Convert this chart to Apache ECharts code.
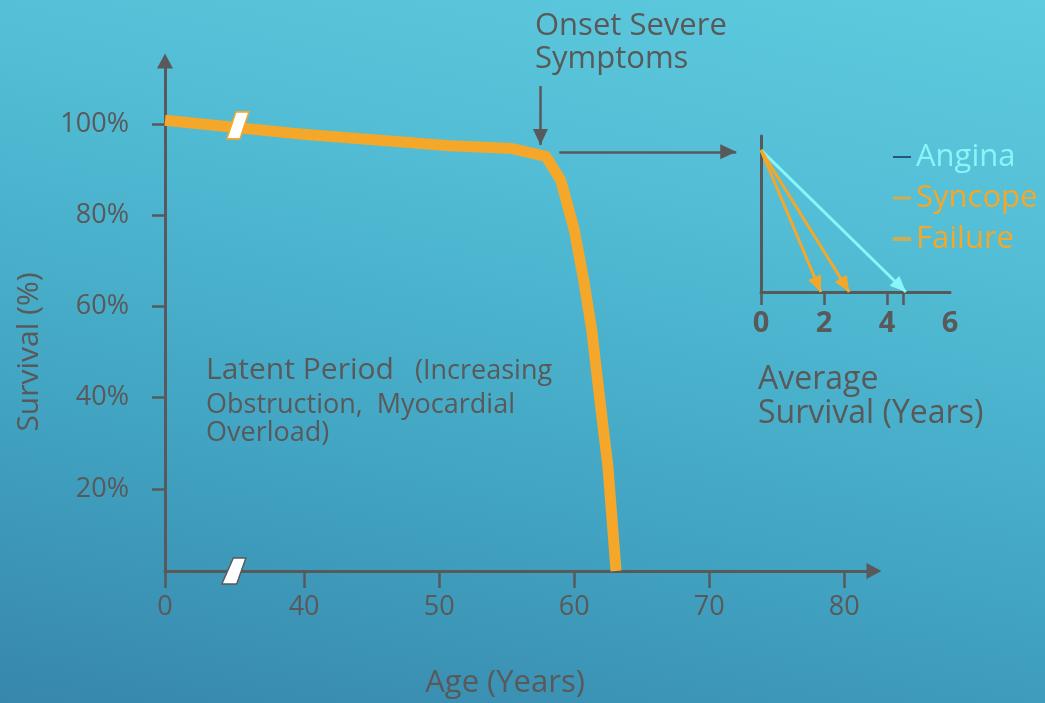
<!DOCTYPE html>
<html>
<head>
<meta charset="utf-8">
<script src="https://cdn.jsdelivr.net/npm/echarts@6/dist/echarts.min.js"></script>
<style>
  html, body { margin: 0; padding: 0; width: 1045px; height: 703px; overflow: hidden;
    background: linear-gradient(12deg, #3787ab 0%, #42a5c3 35%, #52bdd5 70%, #5fcbde 100%); }
  #chart { width: 1045px; height: 703px; }
</style>
</head>
<body>
<div id="chart"></div>
<script>
// Survival curve (age axis origin is a broken axis labelled "0")
const ageValues = [29.7, 39.7, 50.8, 55.4, 57.9, 59.0, 60.0, 60.7, 61.3, 61.9, 62.5, 63.1];
const survivalValues = [100.8, 97.8, 95.2, 94.6, 92.9, 87.7, 76.8, 65.8, 54.8, 39.5, 24.8, 2.0];
const ageTicks = [29.7, 40, 50, 60, 70, 80];
const ageTickLabels = ['0', '40', '50', '60', '70', '80'];
const survivalTicks = [20, 40, 60, 80, 100];

// Axis-break marks: [age, survival]
const breakPoints = [[35.1, 99.7], [34.8, 2.0]];

// Annotation arrows on the main plot: [[fromAge, fromSurv], [toAge, toSurv]]
const onsetArrow = [[57.5, 108.3], [57.5, 95.4]];
const insetArrow = [[58.9, 93.9], [72.0, 93.9]];

// Inset: average survival after onset of each symptom
const symptomNames = ['Angina', 'Syncope', 'Failure'];
const averageSurvivalYears = [4.6, 2.8, 1.9];
const insetStartLevel = 100;
const insetLabelValues = [0, 2, 4, 6];
const insetTickValues = [0, 2, 4, 4.5];

const ORANGE = '#F5A729';
const CYAN = '#86F6F9';
const AXIS = '#58595B';
const TEXT = '#595959';
const FONT = '"Open Sans", sans-serif';
const symptomColors = [CYAN, ORANGE, ORANGE];
const legendMarkColors = ['#1c3a6b', ORANGE, ORANGE];
const legendMarkPaths = [
  'path://M0,0M18,14M0,6H18V8H0Z',
  'path://M0,0M18,14M0,5.5H18V8.5H0Z',
  'path://M0,0M18,14M0,5H18V9H0Z'
];

const chart = echarts.init(document.getElementById('chart'), null, { renderer: 'canvas' });

// one arrow: plain start, triangle head whose tip sits on the end coordinate
const arrowLine = (from, to) => [
  { coord: from },
  { coord: to, symbolOffset: [0, '50%'] }
];

const insetSeries = symptomNames.map((name, i) => ({
  name: name,
  type: 'scatter',
  xAxisIndex: 1,
  yAxisIndex: 1,
  data: [],
  itemStyle: { color: symptomColors[i] },
  markLine: {
    silent: true,
    animation: false,
    symbol: ['none', 'triangle'],
    symbolSize: [14, 16],
    label: { show: false },
    emphasis: { disabled: true },
    lineStyle: { color: symptomColors[i], width: 3, type: 'solid' },
    data: [arrowLine([0, insetStartLevel], [averageSurvivalYears[i], 0])]
  }
}));

const option = {
  animation: false,
  backgroundColor: 'transparent',
  grid: [
    { left: 165, right: 171, top: 61, bottom: 132 },
    { left: 761, right: 95, top: 136, bottom: 411 }
  ],
  xAxis: [
    {
      gridIndex: 0, type: 'value', min: 29.7, max: 82.2,
      axisLine: { show: true, onZero: false, symbol: ['none', 'triangle'], symbolSize: [16, 15],
        lineStyle: { color: AXIS, width: 3 } },
      axisTick: { show: true, customValues: ageTicks, length: 17, lineStyle: { color: AXIS, width: 2.5 } },
      axisLabel: { customValues: ageTicks, margin: 23, color: TEXT, fontSize: 27, fontFamily: FONT,
        formatter: v => ageTickLabels[ageTicks.indexOf(v)] },
      splitLine: { show: false }
    },
    {
      gridIndex: 1, type: 'value', min: 0, max: 6,
      axisLine: { show: true, onZero: false, lineStyle: { color: AXIS, width: 3 } },
      axisTick: { show: true, customValues: insetTickValues, length: 13, lineStyle: { color: AXIS, width: 2.5 } },
      axisLabel: { customValues: insetLabelValues, margin: 17, color: TEXT, fontSize: 29,
        fontWeight: 'bold', fontFamily: FONT },
      splitLine: { show: false }
    }
  ],
  yAxis: [
    {
      gridIndex: 0, type: 'value', min: 2, max: 113.8,
      axisLine: { show: true, onZero: false, symbol: ['none', 'triangle'], symbolSize: [16, 15],
        lineStyle: { color: AXIS, width: 3 } },
      axisTick: { show: true, customValues: survivalTicks, length: 13, lineStyle: { color: AXIS, width: 2.5 } },
      axisLabel: { customValues: survivalTicks, margin: 36, color: TEXT, fontSize: 27, fontFamily: FONT,
        formatter: v => v + '%' },
      splitLine: { show: false }
    },
    {
      gridIndex: 1, type: 'value', min: 0, max: 110,
      axisLine: { show: true, onZero: false, lineStyle: { color: AXIS, width: 3 } },
      axisTick: { show: false },
      axisLabel: { show: false },
      splitLine: { show: false }
    }
  ],
  legend: {
    orient: 'vertical', left: 888, top: 135,
    itemWidth: 18, itemHeight: 14, itemGap: 7,
    selectedMode: false,
    textStyle: { fontSize: 31, fontFamily: FONT, lineHeight: 34 },
    data: symptomNames.map((name, i) => ({
      name: name,
      icon: legendMarkPaths[i],
      itemStyle: { color: legendMarkColors[i] },
      textStyle: { color: symptomColors[i] }
    }))
  },
  series: [
    {
      name: 'Survival',
      type: 'line',
      xAxisIndex: 0, yAxisIndex: 0,
      data: ageValues.map((a, i) => [a, survivalValues[i]]),
      showSymbol: false,
      symbol: 'none',
      lineStyle: { color: ORANGE, width: 11, cap: 'butt', join: 'round' },
      emphasis: { disabled: true },
      markLine: {
        silent: true,
        animation: false,
        symbol: ['none', 'triangle'],
        symbolSize: [15, 16],
        label: { show: false },
        emphasis: { disabled: true },
        lineStyle: { color: AXIS, width: 2.5, type: 'solid' },
        data: [arrowLine(onsetArrow[0], onsetArrow[1]), arrowLine(insetArrow[0], insetArrow[1])]
      }
    },
    {
      name: 'Axis break',
      type: 'scatter',
      xAxisIndex: 0, yAxisIndex: 0,
      z: 5,
      silent: true,
      data: [
        { value: breakPoints[0], symbol: 'path://M9,0L22,0L13,27L0,27Z', symbolSize: [22, 27],
          itemStyle: { color: '#ffffff', opacity: 1, borderColor: ORANGE, borderWidth: 1.5 } },
        { value: breakPoints[1], symbol: 'path://M11.6,0L24.3,0L15,26L0,26Z', symbolSize: [24, 26],
          itemStyle: { color: '#ffffff', opacity: 1, borderColor: AXIS, borderWidth: 1.5 } }
      ]
    }
  ].concat(insetSeries),
  graphic: [
    { type: 'text', x: 535, y: 26, style: { text: 'Onset Severe', font: '31px ' + FONT, fill: TEXT, verticalAlign: 'middle' } },
    { type: 'text', x: 535, y: 59, style: { text: 'Symptoms', font: '31px ' + FONT, fill: TEXT, verticalAlign: 'middle' } },
    { type: 'text', x: 206, y: 370, style: { text: 'Latent Period', font: '30px ' + FONT, fill: TEXT, verticalAlign: 'middle' } },
    { type: 'text', x: 415, y: 371, style: { text: '(Increasing', font: '27px ' + FONT, fill: TEXT, verticalAlign: 'middle' } },
    { type: 'text', x: 206, y: 405, style: { text: 'Obstruction,  Myocardial', font: '27px ' + FONT, fill: TEXT, verticalAlign: 'middle' } },
    { type: 'text', x: 206, y: 433, style: { text: 'Overload)', font: '27px ' + FONT, fill: TEXT, verticalAlign: 'middle' } },
    { type: 'text', x: 758, y: 380, style: { text: 'Average', font: '32px ' + FONT, fill: TEXT, verticalAlign: 'middle' } },
    { type: 'text', x: 758, y: 414, style: { text: 'Survival (Years)', font: '32px ' + FONT, fill: TEXT, verticalAlign: 'middle' } },
    { type: 'text', x: 505, y: 683, style: { text: 'Age (Years)', font: '31px ' + FONT, fill: TEXT, align: 'center', verticalAlign: 'middle' } },
    { type: 'text', x: 29, y: 352, rotation: Math.PI / 2,
      style: { text: 'Survival (%)', font: '30px ' + FONT, fill: TEXT, align: 'center', verticalAlign: 'middle' } }
  ]
};

chart.setOption(option);
</script>
</body>
</html>
